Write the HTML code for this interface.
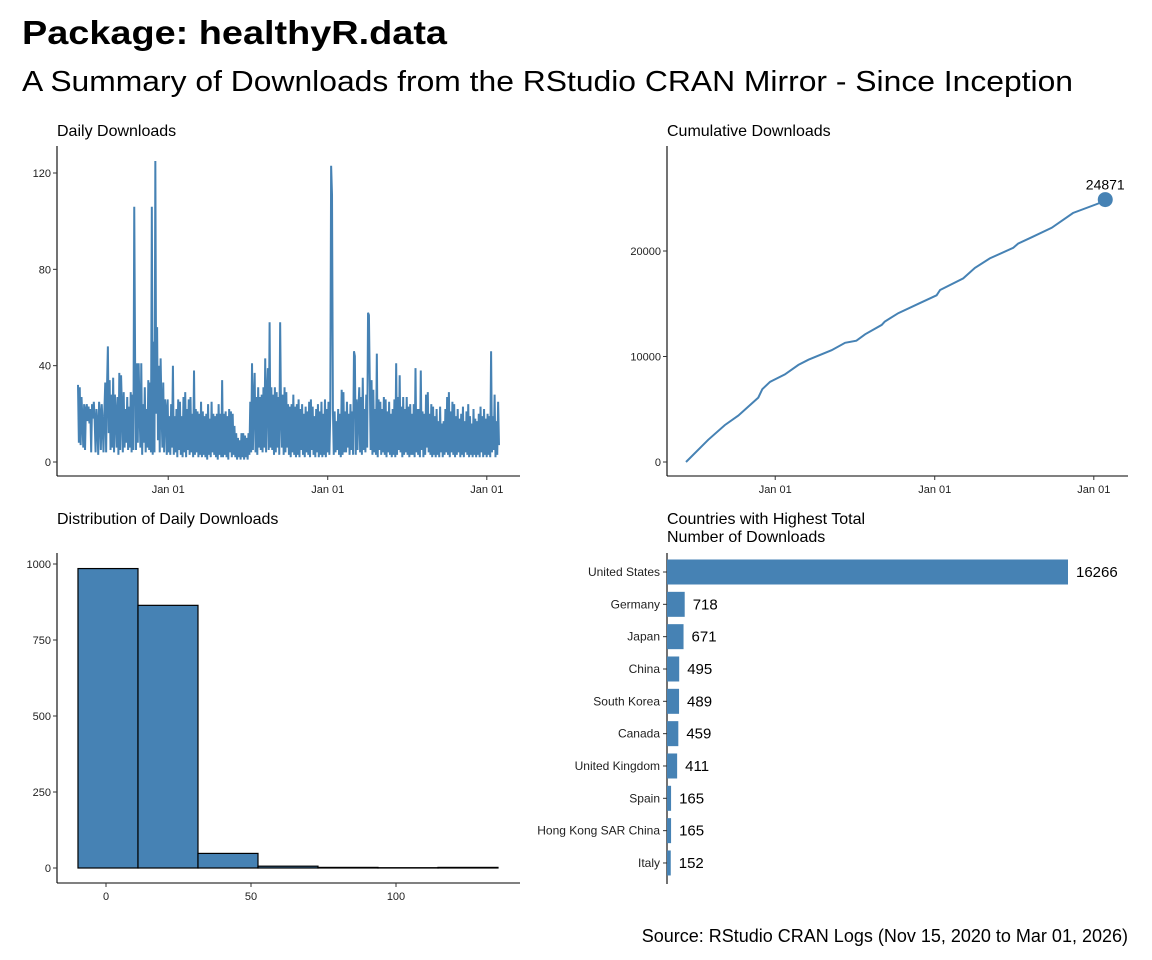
<!DOCTYPE html>
<html><head><meta charset="utf-8"><style>
html,body{margin:0;padding:0;background:#fff}
svg{display:block;font-family:"Liberation Sans",Arial,sans-serif}
</style></head><body>
<svg id="s" width="1152" height="960" viewBox="0 0 1152 960" xmlns="http://www.w3.org/2000/svg">
<text x="22" y="44" font-size="33" font-weight="bold" textLength="425" lengthAdjust="spacingAndGlyphs">Package: healthyR.data</text>
<text x="22" y="91" font-size="29" textLength="1051" lengthAdjust="spacingAndGlyphs">A Summary of Downloads from the RStudio CRAN Mirror - Since Inception</text>
<text x="57" y="136" font-size="16">Daily Downloads</text>
<text x="667" y="136" font-size="16">Cumulative Downloads</text>
<text x="57" y="524" font-size="16">Distribution of Daily Downloads</text>
<text x="667" y="524" font-size="16">Countries with Highest Total</text>
<text x="667" y="542" font-size="16">Number of Downloads</text>
<text x="1128" y="942" font-size="18" text-anchor="end">Source: RStudio CRAN Logs (Nov 15, 2020 to Mar 01, 2026)</text>
<g id="daily"></g>
<g id="cum"></g>
<g id="hist"></g>
<g id="bars"></g>
</svg>
<script>
const dailyValues=[32,8,31,7,27,18,6,24,5,22,24,17,23,16,22,4,24,18,25,17,
4,22,16,3,25,20,5,24,16,4,21,33,4,31,48,12,34,5,28,6,
35,4,28,20,6,27,3,37,5,36,22,4,29,6,22,8,27,5,23,6,
29,4,28,5,106,40,5,41,8,41,22,6,41,3,24,8,31,4,22,6,
34,5,33,4,106,3,50,4,125,20,56,9,40,4,43,22,6,33,4,26,
22,3,26,4,19,3,24,6,40,3,19,4,22,2,26,5,25,3,19,2,
27,4,29,2,22,5,26,3,27,4,20,2,38,3,22,4,21,2,20,3,
25,2,21,3,19,2,20,1,24,3,18,2,25,4,20,3,19,2,20,1,
24,3,20,2,34,2,20,3,21,2,19,1,22,4,21,2,20,3,15,2,
12,1,10,2,9,1,12,2,12,1,11,2,10,1,12,3,25,4,41,5,
25,37,4,27,3,31,6,27,5,28,4,31,6,43,4,28,39,5,58,6,
31,5,28,3,31,4,29,6,27,3,58,20,6,28,3,31,4,29,6,24,
3,23,2,24,4,28,3,23,2,24,3,26,2,22,5,24,3,20,2,23,
4,21,3,25,2,26,5,23,3,19,2,22,4,24,2,21,3,25,2,20,
3,26,2,22,4,25,3,20,123,111,22,3,21,4,17,5,22,3,20,2,
30,3,29,4,21,4,25,6,20,3,24,5,21,3,46,44,3,26,5,21,
31,4,27,3,35,5,22,4,28,6,62,61,33,5,34,3,30,4,22,3,
45,2,26,5,25,3,22,4,27,3,26,2,21,4,25,3,20,2,22,3,
26,2,41,3,27,5,36,4,23,2,27,3,22,4,27,3,23,2,24,3,
20,3,24,2,39,4,22,3,22,2,38,5,21,2,20,3,28,6,29,4,
20,3,24,2,23,3,19,2,22,3,17,2,23,4,16,2,17,3,22,4,
27,3,29,2,21,4,25,3,24,2,19,3,22,4,18,2,20,3,23,2,
17,4,21,3,24,2,19,3,16,2,22,3,18,2,17,3,20,2,23,4,
19,2,22,3,18,2,20,3,19,2,46,4,19,5,28,2,17,3,25,7];
const dailyYTicks=[0,40,80,120];
const dateTickDays=[207,573,938];
const dateTickLabels=["Jan 01","Jan 01","Jan 01"];
const cumDays=[0,51,89,120,147,166,175,193,227,258,281,334,365,391,411,449,456,487,533,575,583,636,663,697,751,762,793,839,888,946,962];
const cumValues=[0,2100,3500,4400,5400,6100,6900,7600,8300,9200,9700,10600,11300,11500,12100,13000,13300,14100,15000,15800,16300,17400,18400,19300,20300,20700,21300,22200,23600,24500,24871];
const cumYTicks=[0,10000,20000];
const histEdges=[-9.66,11.03,31.72,52.41,73.1,93.79,114.48,135.17];
const histCounts=[985,864,48,6,2,1,2];
const histXTicks=[0,50,100];
const histYTicks=[0,250,500,750,1000];
const countries=["United States","Germany","Japan","China","South Korea","Canada","United Kingdom","Spain","Hong Kong SAR China","Italy"];
const countryValues=[16266,718,671,495,489,459,411,165,165,152];

const NS="http://www.w3.org/2000/svg";
const C="#4682B4";
function mk(p,t,a){const e=document.createElementNS(NS,t);for(const k in a)e.setAttribute(k,a[k]);p.appendChild(e);return e;}
function axes(g,x0,x1,y0,y1){
  const a=mk(g,'line',{x1:x0,y1:y0,x2:x0,y2:y1,stroke:'#000','stroke-width':1.1});
  
  
  const b=mk(g,'line',{x1:x0,y1:y1,x2:x1,y2:y1,stroke:'#000','stroke-width':1.1});
  
  
}
function yTick(g,x0,y,label){
  mk(g,'line',{x1:x0-4,y1:y,x2:x0,y2:y,stroke:'#333'});
  const t=mk(g,'text',{x:x0-6,y:y+4,'font-size':11,'text-anchor':'end',fill:'#222'});t.textContent=label;
  
  
}
function xTick(g,x,y1,label){
  mk(g,'line',{x1:x,y1:y1,x2:x,y2:y1+4,stroke:'#333'});
  const t=mk(g,'text',{x:x,y:y1+17,'font-size':11,'text-anchor':'middle',fill:'#222'});t.textContent=label;
  
  
}
// Daily
(function(){
  const g=document.getElementById('daily');
  const x0=57,x1=520,yb=476,ytop=146;
  const span=966;
  const xs=d=>78+d*(421/span);
  const ys=v=>462-v*(289/120);
  axes(g,x0,x1,ytop,yb);
  dailyYTicks.forEach(v=>yTick(g,x0,ys(v),v));
  dateTickDays.forEach((d,i)=>xTick(g,xs(d),yb,dateTickLabels[i]));
  const n=dailyValues.length;
  const pts=dailyValues.map((v,i)=>xs(i*span/(n-1)).toFixed(2)+','+ys(v).toFixed(1)).join(' ');
  const l=mk(g,'polyline',{points:pts,fill:'none',stroke:C,'stroke-width':2,'stroke-linejoin':'bevel'});
  
  
})();
// Cumulative
(function(){
  const g=document.getElementById('cum');
  const x0=667,x1=1128,yb=476,ytop=146;
  const xs=d=>686+d*(421/966);
  const ys=v=>462-v*(211/20000);
  axes(g,x0,x1,ytop,yb);
  cumYTicks.forEach(v=>yTick(g,x0,ys(v),v));
  dateTickDays.forEach((d,i)=>xTick(g,xs(d)-1,yb,dateTickLabels[i]));
  const pts=cumDays.map((d,i)=>xs(d).toFixed(1)+','+ys(cumValues[i]).toFixed(1)).join(' ');
  const l=mk(g,'polyline',{points:pts,fill:'none',stroke:C,'stroke-width':2});
  
  
  const last=cumValues.length-1;
  const c=mk(g,'circle',{cx:xs(cumDays[last]),cy:ys(cumValues[last]),r:7.5,fill:C});
  
  
  const t=mk(g,'text',{x:xs(cumDays[last]),y:ys(cumValues[last])-10,'font-size':14,'text-anchor':'middle'});
  t.textContent=cumValues[last];
  
  
})();
// Histogram
(function(){
  const g=document.getElementById('hist');
  const x0=57,x1=520,yb=883,ytop=553;
  const xs=v=>106+v*2.9;
  const ys=v=>868-v*0.304;
  axes(g,x0,x1,ytop,yb);
  histYTicks.forEach(v=>yTick(g,x0,ys(v),v));
  histXTicks.forEach(v=>xTick(g,xs(v),yb,v));
  histCounts.forEach((c,i)=>{
    const r=mk(g,'rect',{x:xs(histEdges[i]),y:ys(c),width:xs(histEdges[i+1])-xs(histEdges[i]),height:ys(0)-ys(c),fill:C,stroke:'#000','stroke-width':1.2});
    
    
  });
})();
// Countries
(function(){
  const g=document.getElementById('bars');
  const x0=667;
  const xs=v=>x0+v*(401/16266);
  const yc=i=>572+i*32.33;
  const a=mk(g,'line',{x1:x0,y1:553,x2:x0,y2:884,stroke:'#000','stroke-width':1.1});
  
  
  countries.forEach((c,i)=>{
    const y=yc(i);
    mk(g,'line',{x1:x0-4,y1:y,x2:x0,y2:y,stroke:'#333'});
    const t=mk(g,'text',{x:x0-7,y:y+4,'font-size':12,'text-anchor':'end',fill:'#222'});t.textContent=c;
    
    
    const r=mk(g,'rect',{x:x0,y:y-12.5,width:xs(countryValues[i])-x0,height:25,fill:C});
    
    
    const v=mk(g,'text',{x:xs(countryValues[i])+8,y:y+5,'font-size':15});v.textContent=countryValues[i];
    
    
  });
})();
</script>
</body></html>
